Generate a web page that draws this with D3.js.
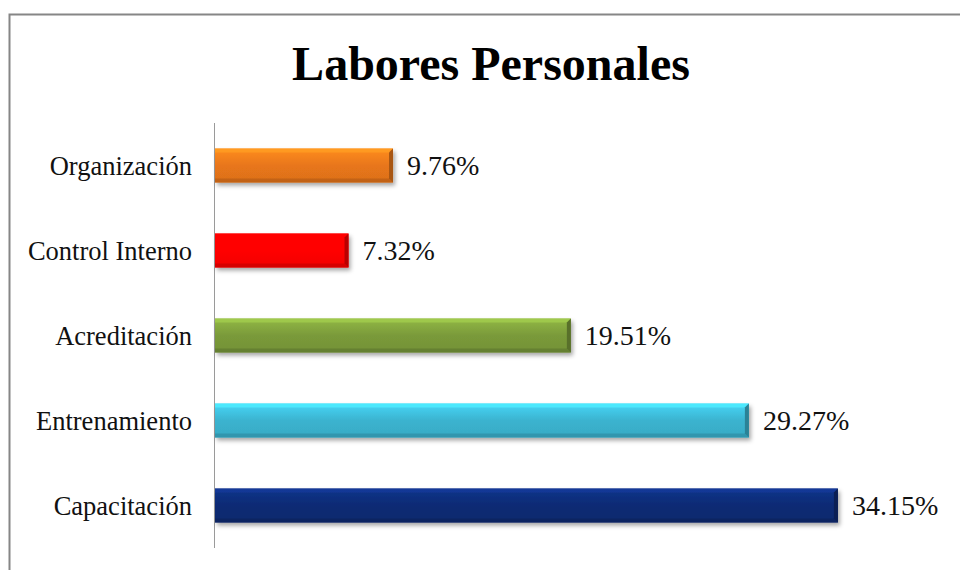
<!DOCTYPE html>
<html>
<head>
<meta charset="utf-8">
<script src="https://cdn.jsdelivr.net/npm/d3@7"></script>
<style>
  body { margin: 0; background: #fff; }
  svg { display: block; }
</style>
</head>
<body>
<svg width="960" height="570"></svg>
<script>
const categories = ["Organización", "Control Interno", "Acreditación", "Entrenamiento", "Capacitación"];
const values = [9.76, 7.32, 19.51, 29.27, 34.15];
const valueLabels = ["9.76%", "7.32%", "19.51%", "29.27%", "34.15%"];
const colors = ["#E8761A", "#FF0000", "#7A9A3A", "#3BB3CF", "#0F2B74"];

const svg = d3.select("svg");
const font = "'Liberation Serif', 'Times New Roman', serif";

// chart frame
svg.append("rect")
  .attr("x", 9.5).attr("y", 14.5)
  .attr("width", 970).attr("height", 600)
  .attr("fill", "#fff")
  .attr("stroke", "#868686")
  .attr("stroke-width", 2);

svg.append("text")
  .attr("x", 491).attr("y", 80)
  .attr("text-anchor", "middle")
  .attr("font-family", font)
  .attr("font-weight", "bold")
  .attr("font-size", 48)
  .text("Labores Personales");

const x = d3.scaleLinear().domain([0, 40]).range([215, 944.6]);
const y = d3.scaleBand().domain(categories).range([123, 548]).paddingInner(0.6).paddingOuter(0.3);

const defs = svg.append("defs");
const shadow = defs.append("filter").attr("id", "shadow")
  .attr("x", "-10%").attr("y", "-30%").attr("width", "120%").attr("height", "180%");
shadow.append("feDropShadow")
  .attr("dx", 2).attr("dy", 3).attr("stdDeviation", 2)
  .attr("flood-color", "#000").attr("flood-opacity", 0.35);

colors.forEach((c, i) => {
  const g = defs.append("linearGradient").attr("id", "grad" + i)
    .attr("x1", 0).attr("y1", 0).attr("x2", 0).attr("y2", 1);
  const base = d3.color(c);
  g.append("stop").attr("offset", "0%").attr("stop-color", base.brighter(0.5));
  g.append("stop").attr("offset", "50%").attr("stop-color", base);
  g.append("stop").attr("offset", "100%").attr("stop-color", base.darker(0.15));
});

const data = categories.map((c, i) => ({ cat: c, v: values[i], label: valueLabels[i], color: colors[i], i }));

// axis line
svg.append("line")
  .attr("x1", 214.5).attr("x2", 214.5)
  .attr("y1", 123).attr("y2", 548)
  .attr("stroke", "#9a9a9a").attr("stroke-width", 1);

const bars = svg.selectAll("g.bar").data(data).join("g").attr("class", "bar");
const bev = 4;

bars.append("rect")
  .attr("x", x(0))
  .attr("y", d => y(d.cat))
  .attr("width", d => x(d.v) - x(0))
  .attr("height", y.bandwidth())
  .attr("fill", d => `url(#grad${d.i})`)
  .attr("filter", "url(#shadow)");

// top bevel
bars.append("path")
  .attr("d", d => {
    const x0 = x(0), x1 = x(d.v), y0 = y(d.cat);
    return `M${x0},${y0}L${x1},${y0}L${x1 - bev},${y0 + bev}L${x0},${y0 + bev}Z`;
  })
  .attr("fill", d => d3.color(d.color).brighter(0.8))
  .attr("opacity", 0.8);

// bottom bevel
bars.append("path")
  .attr("d", d => {
    const x0 = x(0), x1 = x(d.v), y1 = y(d.cat) + y.bandwidth();
    return `M${x0},${y1}L${x1},${y1}L${x1 - bev},${y1 - bev}L${x0},${y1 - bev}Z`;
  })
  .attr("fill", d => d3.color(d.color).darker(0.6))
  .attr("opacity", 0.8);

// right bevel
bars.append("path")
  .attr("d", d => {
    const x1 = x(d.v), y0 = y(d.cat), y1 = y0 + y.bandwidth();
    return `M${x1},${y0}L${x1},${y1}L${x1 - bev},${y1 - bev}L${x1 - bev},${y0 + bev}Z`;
  })
  .attr("fill", d => d3.color(d.color).darker(0.9));

// category labels
svg.selectAll("text.cat").data(data).join("text")
  .attr("class", "cat")
  .attr("x", 192)
  .attr("y", d => y(d.cat) + y.bandwidth() / 2)
  .attr("dy", "0.35em")
  .attr("text-anchor", "end")
  .attr("font-family", font)
  .attr("font-size", 26.5)
  .attr("fill", "#111")
  .text(d => d.cat);

// value labels
svg.selectAll("text.val").data(data).join("text")
  .attr("class", "val")
  .attr("x", d => x(d.v) + 14)
  .attr("y", d => y(d.cat) + y.bandwidth() / 2)
  .attr("dy", "0.35em")
  .attr("font-family", font)
  .attr("font-size", 28)
  .attr("fill", "#111")
  .text(d => d.label);
</script>
</body>
</html>
